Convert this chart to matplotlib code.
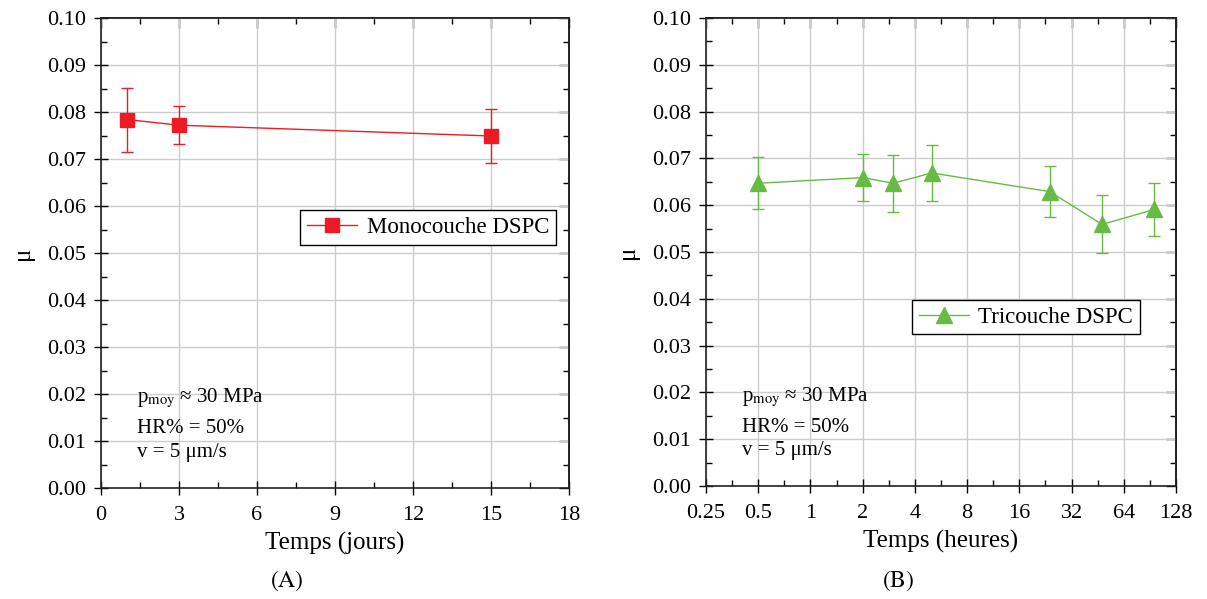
import numpy as np
import matplotlib
matplotlib.use("Agg")
import matplotlib.pyplot as plt
from matplotlib.ticker import MultipleLocator, FixedLocator, NullFormatter, FormatStrFormatter

plt.rcParams['font.family'] = ['Liberation Serif', 'DejaVu Serif']
plt.rcParams['mathtext.fontset'] = 'stix'

# Monocouche DSPC (jours)
mono_t = [1, 3, 15]
mono_mu = [0.0784, 0.0772, 0.0749]
mono_err = [0.0068, 0.0041, 0.0057]

# Tricouche DSPC (heures)
tri_t = [0.5, 2, 3, 5, 24, 48, 96]
tri_mu = [0.0647, 0.0659, 0.0647, 0.0669, 0.0629, 0.0559, 0.0591]
tri_err = [0.0055, 0.0051, 0.0061, 0.0059, 0.0054, 0.0062, 0.0057]

hour_ticks = [0.25, 0.5, 1, 2, 4, 8, 16, 32, 64, 128]
hour_labels = ["0.25", "0.5", "1", "2", "4", "8", "16", "32", "64", "128"]

red = "#ED1C24"
green = "#66BB44"
fs = 16

fig = plt.figure(figsize=(12.07, 5.99), dpi=100)
ax1 = fig.add_axes([0.0837, 0.1853, 0.3877, 0.7846])
ax2 = fig.add_axes([0.5849, 0.1886, 0.3894, 0.7813])


def style(ax, xmajor, xminor):
    ax.set_ylim(0, 0.10)
    ax.yaxis.set_major_locator(MultipleLocator(0.01))
    ax.yaxis.set_minor_locator(MultipleLocator(0.005))
    ax.yaxis.set_major_formatter(FormatStrFormatter("%.2f"))
    ax.xaxis.set_minor_locator(FixedLocator(xminor))
    ax.xaxis.set_minor_formatter(NullFormatter())
    ax.grid(True, which="major", color="#cccccc", linewidth=1.0)
    ax.set_axisbelow(True)
    ax.tick_params(which="major", direction="inout", length=10, width=1.0,
                   labelsize=fs, top=False, right=False)
    ax.tick_params(axis="x", which="major", pad=8)
    ax.tick_params(axis="y", which="major", pad=6)
    ax.tick_params(which="minor", direction="in", length=4, width=1.0,
                   top=False, right=False)
    for s in ax.spines.values():
        s.set_linewidth(1.2)
        s.set_color("#222222")
    # inward ticks on top and right
    top = ax.secondary_xaxis("top")
    top.xaxis.set_major_locator(FixedLocator(xmajor))
    top.xaxis.set_minor_locator(FixedLocator(xminor))
    top.xaxis.set_major_formatter(NullFormatter())
    top.xaxis.set_minor_formatter(NullFormatter())
    top.tick_params(which="major", direction="in", length=7, width=1.0)
    top.tick_params(which="minor", direction="in", length=4, width=1.0)
    top.spines["top"].set_linewidth(1.2)
    right = ax.secondary_yaxis("right")
    right.yaxis.set_major_locator(MultipleLocator(0.01))
    right.yaxis.set_minor_locator(MultipleLocator(0.005))
    right.yaxis.set_major_formatter(NullFormatter())
    right.tick_params(which="major", direction="in", length=7, width=1.0)
    right.tick_params(which="minor", direction="in", length=4, width=1.0)
    right.spines["right"].set_linewidth(1.2)
    ax.set_ylabel("μ", fontsize=18, labelpad=9)


def notes(ax):
    ax.text(0.077, 0.182, "p$_{\\mathrm{moy}}$ ≈ 30 MPa", transform=ax.transAxes,
            fontsize=fs - 1, va="baseline")
    ax.text(0.077, 0.116, "HR% = 50%", transform=ax.transAxes,
            fontsize=fs - 1, va="baseline")
    ax.text(0.077, 0.066, "v = 5 μm/s", transform=ax.transAxes,
            fontsize=fs - 1, va="baseline")


# (A)
c1 = ax1.errorbar(mono_t, mono_mu, yerr=mono_err, color=red, marker="s",
                  markersize=9.5, linewidth=1.0, elinewidth=1.0, capsize=4,
                  capthick=1.0)
ax1.set_xlim(0, 18)
ax1.xaxis.set_major_locator(MultipleLocator(3))
style(ax1, np.arange(0, 19, 3), np.arange(1.5, 18, 3))
ax1.set_xlabel("Temps (jours)", fontsize=18, labelpad=5)
ax1.legend([c1[0]], ["Monocouche DSPC"], loc="center right",
           bbox_to_anchor=(0.972, 0.555), fontsize=16.5,
           frameon=True, fancybox=False, edgecolor="black", framealpha=1,
           handlelength=2.2, borderpad=0.3, handletextpad=0.4, borderaxespad=0)
notes(ax1)

# (B)
c2 = ax2.errorbar(tri_t, tri_mu, yerr=tri_err, color=green, marker="^",
                  markersize=12, linewidth=1.0, elinewidth=1.0, capsize=4,
                  capthick=1.0)
ax2.set_xscale("log", base=2)
ax2.set_xlim(0.25, 128)
ax2.xaxis.set_major_locator(FixedLocator(hour_ticks))
ax2.set_xticklabels(hour_labels)
minors = [np.sqrt(hour_ticks[i] * hour_ticks[i + 1]) for i in range(len(hour_ticks) - 1)]
style(ax2, hour_ticks, minors)
ax2.set_xlabel("Temps (heures)", fontsize=18, labelpad=5)
ax2.legend([c2[0]], ["Tricouche DSPC"], loc="center right",
           bbox_to_anchor=(0.923, 0.361), fontsize=16.5,
           frameon=True, fancybox=False, edgecolor="black", framealpha=1,
           handlelength=2.2, borderpad=0.3, handletextpad=0.4, borderaxespad=0)
notes(ax2)

fig.text(0.238, 0.030, "$\\left(\\mathrm{A}\\right)$", fontsize=17,
         ha="center", va="center")
fig.text(0.744, 0.030, "$\\left(\\mathrm{B}\\right)$", fontsize=17,
         ha="center", va="center")

fig.savefig("out.png", dpi=100)
